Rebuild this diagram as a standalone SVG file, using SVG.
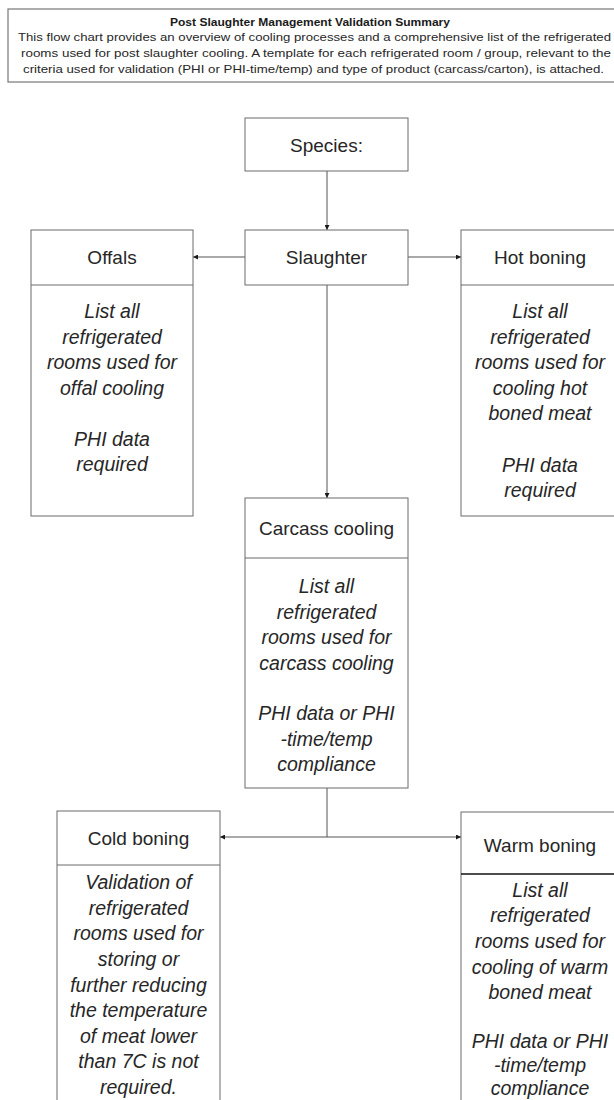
<svg xmlns="http://www.w3.org/2000/svg" width="614" height="1100" viewBox="0 0 614 1100">
<style>
.box{fill:#fff;stroke:#6b6b6b;stroke-width:1}
.div{stroke:#6b6b6b;stroke-width:1}
.hd{font-family:"Liberation Sans",Arial,sans-serif;font-size:19px;fill:#262626;text-anchor:middle}
.it{font-family:"Liberation Sans",Arial,sans-serif;font-size:19.5px;font-style:italic;fill:#262626;text-anchor:middle}
.ttl{font-family:"Liberation Sans",Arial,sans-serif;font-size:11px;font-weight:bold;fill:#1a1a1a;text-anchor:middle}
.sm{font-family:"Liberation Sans",Arial,sans-serif;font-size:10.5px;fill:#262626;text-anchor:middle}
.con{fill:none;stroke:#555;stroke-width:1}
</style>
<defs>
<marker id="arr" viewBox="0 0 6 6" refX="6" refY="3" markerWidth="6" markerHeight="5" markerUnits="userSpaceOnUse" orient="auto">
<path d="M0,0 L6,3 L0,6 z" fill="#1a1a1a"/>
</marker>
</defs>
<rect width="614" height="1100" fill="#fff"/>

<g id="header">
<rect x="8" y="9" width="612" height="73" fill="#fff" stroke="#777" stroke-width="1.2"/>
<text class="ttl" x="310" y="26" textLength="280" lengthAdjust="spacingAndGlyphs">Post Slaughter Management Validation Summary</text>
<text class="sm" x="314.5" y="41" textLength="593" lengthAdjust="spacingAndGlyphs">This flow chart provides an overview of cooling processes and a comprehensive list of the refrigerated</text>
<text class="sm" x="316" y="57" textLength="590" lengthAdjust="spacingAndGlyphs">rooms  used for post slaughter cooling. A template  for each refrigerated room  / group,  relevant to the</text>
<text class="sm" x="313.5" y="73" textLength="581" lengthAdjust="spacingAndGlyphs">criteria used for validation (PHI or PHI-time/temp)  and type of product  (carcass/carton), is attached.</text>
</g>

<g id="connectors">
<path class="con" d="M327,171 L327,230" marker-end="url(#arr)"/>
<path class="con" d="M245,257 L193,257" marker-end="url(#arr)"/>
<path class="con" d="M408,257 L461,257" marker-end="url(#arr)"/>
<path class="con" d="M327,285 L327,498" marker-end="url(#arr)"/>
<path class="con" d="M327,788 L327,837"/>
<path class="con" d="M327,837 L220,837" marker-end="url(#arr)"/>
<path class="con" d="M327,837 L461,837" marker-end="url(#arr)"/>
</g>

<g id="species">
<rect class="box" x="245" y="118" width="163" height="53"/>
<text class="hd" x="326.5" y="152">Species:</text>
</g>

<g id="slaughter">
<rect class="box" x="245" y="230" width="163" height="55"/>
<text class="hd" x="326.5" y="264">Slaughter</text>
</g>

<g id="offals">
<rect class="box" x="31" y="230" width="162" height="286"/>
<line class="div" x1="31" y1="285" x2="193" y2="285"/>
<text class="hd" x="112" y="264">Offals</text>
<text class="it" x="112" y="318">List all</text>
<text class="it" x="112" y="343.5">refrigerated</text>
<text class="it" x="112" y="369">rooms used for</text>
<text class="it" x="112" y="394.5">offal cooling</text>
<text class="it" x="112" y="445.5">PHI data</text>
<text class="it" x="112" y="471">required</text>
</g>

<g id="hot-boning">
<rect class="box" x="461" y="230" width="160" height="286"/>
<line class="div" x1="461" y1="285" x2="621" y2="285"/>
<text class="hd" x="540" y="264">Hot boning</text>
<text class="it" x="540" y="318">List all</text>
<text class="it" x="540" y="343.5">refrigerated</text>
<text class="it" x="540" y="369">rooms used for</text>
<text class="it" x="540" y="394.5">cooling hot</text>
<text class="it" x="540" y="420">boned meat</text>
<text class="it" x="540" y="471.5">PHI data</text>
<text class="it" x="540" y="497">required</text>
</g>

<g id="carcass-cooling">
<rect class="box" x="245" y="498" width="163" height="290"/>
<line class="div" x1="245" y1="558" x2="408" y2="558"/>
<text class="hd" x="326.5" y="535">Carcass cooling</text>
<text class="it" x="326.5" y="593">List all</text>
<text class="it" x="326.5" y="618.5">refrigerated</text>
<text class="it" x="326.5" y="644">rooms used for</text>
<text class="it" x="326.5" y="669.5">carcass cooling</text>
<text class="it" x="326.5" y="720">PHI data or PHI</text>
<text class="it" x="326.5" y="745.5">-time/temp</text>
<text class="it" x="326.5" y="771">compliance</text>
</g>

<g id="cold-boning">
<rect class="box" x="57" y="811" width="163" height="300"/>
<line class="div" x1="57" y1="865" x2="220" y2="865"/>
<text class="hd" x="138.5" y="845">Cold boning</text>
<text class="it" x="138.5" y="889">Validation of</text>
<text class="it" x="138.5" y="914.5">refrigerated</text>
<text class="it" x="138.5" y="940">rooms used for</text>
<text class="it" x="138.5" y="966">storing or</text>
<text class="it" x="138.5" y="991.5">further reducing</text>
<text class="it" x="138.5" y="1017">the temperature</text>
<text class="it" x="138.5" y="1042.5">of meat lower</text>
<text class="it" x="138.5" y="1068">than 7C is not</text>
<text class="it" x="138.5" y="1093.5">required.</text>
</g>

<g id="warm-boning">
<rect class="box" x="461" y="812" width="160" height="300"/>
<line x1="461" y1="874" x2="621" y2="874" stroke="#111" stroke-width="1.5"/>
<text class="hd" x="540" y="852">Warm boning</text>
<text class="it" x="540" y="897">List all</text>
<text class="it" x="540" y="922">refrigerated</text>
<text class="it" x="540" y="947.5">rooms used for</text>
<text class="it" x="540" y="973.5">cooling of warm</text>
<text class="it" x="540" y="999">boned meat</text>
<text class="it" x="540" y="1048">PHI data or PHI</text>
<text class="it" x="540" y="1072">-time/temp</text>
<text class="it" x="540" y="1095">compliance</text>
</g>
</svg>
